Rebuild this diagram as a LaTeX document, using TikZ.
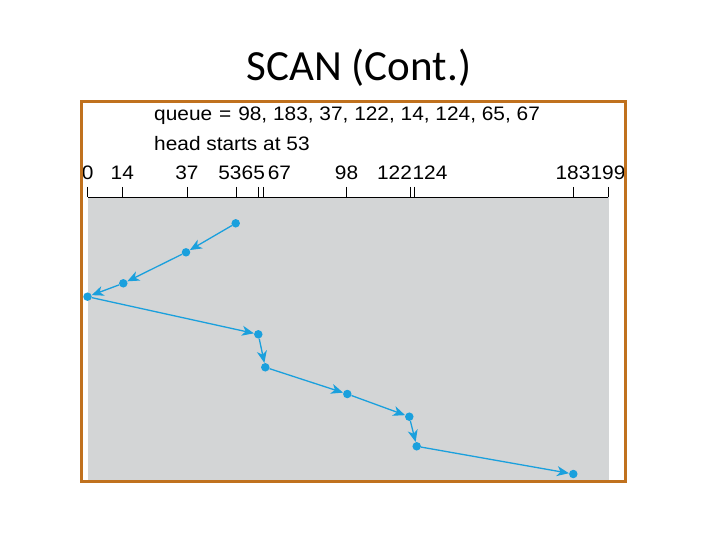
\documentclass[tikz,border=0pt]{standalone}
\usepackage{fontspec}
\setmainfont{Liberation Sans}
\newfontfamily\titlefont{Carlito}
\usetikzlibrary{arrows.meta}
\definecolor{frameorange}{RGB}{192,113,30}
\definecolor{diskblue}{RGB}{26,160,221}
\definecolor{platter}{RGB}{211,213,214}
\newcommand{\hstretch}[1]{\scalebox{1.07}[1]{#1}}
\begin{document}
\begin{tikzpicture}[x=1pt,y=-1pt,
  lbl/.style={inner sep=0pt, anchor=base, font=\fontsize{19.5}{22}\selectfont},
  txt/.style={inner sep=0pt, anchor=base west, font=\fontsize{19.5}{22}\selectfont},
  dot/.style={circle, fill=diskblue, inner sep=0pt, minimum size=8.5pt},
  seek/.style={draw=diskblue, line width=1.3pt, -{Stealth[length=12pt,width=10pt,inset=3.5pt]}},
  tick/.style={line width=0.8pt}]
\useasboundingbox (0,0) rectangle (720,540);
\fill[white] (0,0) rectangle (720,540);
% title
\node[anchor=base, inner sep=0pt] (title) at (359,81) {\titlefont\fontsize{43}{50}\selectfont SCAN (Cont.)};
% platter
\fill[platter] (87.5,197.3) rectangle (608.5,480);
\draw[line width=1pt] (87.5,197.3) -- (608.3,197.3);
\foreach \v/\x in {0/87.5,14/122.3,37/187.3,53/236.5,65/258.3,67/263.5,98/346.5,122/410.8,124/414.5,183/573.7,199/608.3}
  \draw[tick] (\x,187) -- (\x,197.3);
\foreach \v/\x in {0/87.8,14/122.3,37/187,53/230,65/253.3,67/279.5,98/346.5,122/394.5,124/430,183/573,199/608}
  \node[lbl] (lbl\v) at (\x,180) {\hstretch{\v}};
% texts
\node[txt] (queue) at (154,121) {\hstretch{queue\,\,=\,\,98, 183, 37, 122, 14, 124, 65, 67}};
\node[txt] (head) at (154,150.5) {\hstretch{head starts at 53}};
% dots
\node[dot] (d53) at (235.7,223.3) {};
\node[dot] (d37) at (186,252.3) {};
\node[dot] (d14) at (123.3,283.3) {};
\node[dot] (d0) at (87.5,296.7) {};
\node[dot] (d65) at (258.3,334.3) {};
\node[dot] (d67) at (265.3,367.3) {};
\node[dot] (d98) at (347.3,394) {};
\node[dot] (d122) at (409.3,416.7) {};
\node[dot] (d124) at (416.7,446.3) {};
\node[dot] (d183) at (573.3,474) {};
\foreach \a/\b in {53/37,37/14,14/0,0/65,65/67,67/98,98/122,122/124,124/183}
  \draw[seek] (d\a) -- (d\b);
% frame
\draw[frameorange, line width=3pt] (81.5,101.5) rectangle (625.5,481.5);
\end{tikzpicture}
\end{document}
